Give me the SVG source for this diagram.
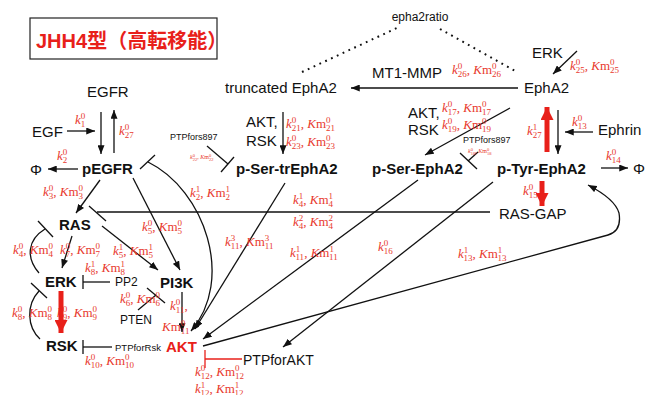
<svg xmlns="http://www.w3.org/2000/svg" width="645" height="395" viewBox="0 0 645 395">
<style>
.t{font-family:"Liberation Sans",Arial,sans-serif;font-size:15px;fill:#111}
.b{font-weight:bold}
.r{fill:#e8201a}
.m{font-family:"Liberation Serif","Times New Roman",serif;font-size:13px;fill:#e8392e}
.i{font-style:italic}
.s{font-size:9px}
.sm{font-size:6px}
.s2{font-size:4.5px}
.ln{fill:none;stroke:#111;stroke-width:1.3}
.dot{fill:none;stroke:#111;stroke-width:2;stroke-dasharray:1.8,4.6}
.rl{fill:none;stroke:#e8201a;stroke-width:1.3}
.fat{fill:none;stroke:#e8201a;stroke-width:5}
</style>
<defs>
<marker id="a" viewBox="0 0 10 8" refX="10" refY="4" markerWidth="9" markerHeight="7" markerUnits="userSpaceOnUse" orient="auto"><path d="M0,0L10,4L0,8z" fill="#111"/></marker>
<marker id="ra" viewBox="0 0 12 12" refX="12" refY="6" markerWidth="13" markerHeight="13" markerUnits="userSpaceOnUse" orient="auto"><path d="M0,0L12,6L0,12z" fill="#e8201a"/></marker>
</defs>

<g id="title">
<rect x="30" y="18" width="187" height="41" fill="#fff" stroke="#222" stroke-width="1.2"/>
<text x="36" y="48" class="t b r" style="font-size:20px;font-family:'Liberation Sans','Noto Sans CJK JP',sans-serif">JHH4型（高転移能）</text>
</g>

<g id="connectors">
<line class="dot" x1="302" y1="72" x2="399" y2="27"/>
<line class="dot" x1="440" y1="29" x2="517" y2="72"/>
<line class="ln" x1="67" y1="131" x2="95" y2="131" marker-end="url(#a)"/>
<line class="ln" x1="101" y1="112" x2="101" y2="154" marker-end="url(#a)"/>
<line class="ln" x1="114" y1="153" x2="114" y2="110" marker-end="url(#a)"/>
<line class="ln" x1="78" y1="169" x2="48" y2="169" marker-end="url(#a)"/>
<line class="ln" x1="100" y1="180" x2="76" y2="213" marker-end="url(#a)"/>
<line class="ln" x1="133" y1="178" x2="180" y2="270" marker-end="url(#a)"/>
<line class="ln" x1="102" y1="226" x2="158" y2="270" marker-end="url(#a)"/>
<line class="ln" x1="72" y1="236" x2="62" y2="268" marker-end="url(#a)"/>
<path class="ln" d="M39,273 C26,258 27,240 45,229"/>
<line class="ln" x1="38" y1="221" x2="53" y2="237"/>
<path class="ln" d="M40,339 C27,327 26,305 39,291"/>
<line class="ln" x1="31" y1="283" x2="47" y2="298"/>
<line class="ln" x1="110" y1="282" x2="83" y2="282"/>
<line class="ln" x1="83" y1="275" x2="83" y2="289"/>
<line class="ln" x1="138" y1="310" x2="156" y2="295"/>
<line class="ln" x1="147" y1="288" x2="165" y2="303"/>
<line class="ln" x1="182" y1="292" x2="182" y2="332" marker-end="url(#a)"/>
<line class="ln" x1="112" y1="347" x2="83" y2="347"/>
<line class="ln" x1="83" y1="340" x2="83" y2="354"/>
<path class="ln" d="M148,162 C205,190 235,280 191,331" marker-end="url(#a)"/>
<line class="ln" x1="140" y1="169" x2="155" y2="155"/>
<line class="ln" x1="285" y1="183" x2="195" y2="329" marker-end="url(#a)"/>
<line class="ln" x1="418" y1="180" x2="203" y2="339" marker-end="url(#a)"/>
<line class="ln" x1="493" y1="182" x2="283" y2="347" marker-end="url(#a)"/>
<path class="ln" d="M203,346 L608,235 Q622,231 619,213 Q615,199 588,185" marker-end="url(#a)"/>
<line class="ln" x1="490" y1="212" x2="97" y2="212"/>
<line class="ln" x1="89" y1="206" x2="106" y2="221"/>
<line class="ln" x1="510" y1="108" x2="425" y2="155" marker-end="url(#a)"/>
<line class="ln" x1="478" y1="152" x2="468" y2="161"/>
<line class="ln" x1="460" y1="153" x2="477" y2="169"/>
<line class="ln" x1="207" y1="146" x2="228" y2="164"/>
<line class="ln" x1="221" y1="172" x2="234" y2="157"/>
<line class="ln" x1="283" y1="112" x2="283" y2="154" marker-end="url(#a)"/>
<line class="ln" x1="518" y1="88" x2="351" y2="88" marker-end="url(#a)"/>
<line class="ln" x1="577" y1="51" x2="553" y2="74" marker-end="url(#a)"/>
<line class="ln" x1="558" y1="110" x2="558" y2="154" marker-end="url(#a)"/>
<line class="ln" x1="593" y1="132" x2="565" y2="132" marker-end="url(#a)"/>
<line class="ln" x1="601" y1="168" x2="628" y2="168" marker-end="url(#a)"/>
<line class="rl" x1="242" y1="359" x2="205" y2="359"/>
<line class="rl" x1="205" y1="350" x2="205" y2="368"/>
</g>

<g id="labels">
<text class="m" x="75" y="124"><tspan class="i">k</tspan><tspan class="s" dy="-5">0</tspan><tspan class="s" dx="-4.5" dy="8">1</tspan></text>
<text class="m" x="119" y="135"><tspan class="i">k</tspan><tspan class="s" dy="-5">0</tspan><tspan class="s" dx="-4.5" dy="8">27</tspan></text>
<text class="m" x="57" y="160"><tspan class="i">k</tspan><tspan class="s" dy="-5">0</tspan><tspan class="s" dx="-4.5" dy="8">2</tspan></text>
<text class="m" x="43" y="196"><tspan class="i">k</tspan><tspan class="s" dy="-5">0</tspan><tspan class="s" dx="-4.5" dy="8">3</tspan><tspan dy="-3">, </tspan><tspan class="i">K</tspan>m<tspan class="s" dy="-5">0</tspan><tspan class="s" dx="-4.5" dy="8">3</tspan></text>
<text class="m" x="142" y="231"><tspan class="i">k</tspan><tspan class="s" dy="-5">0</tspan><tspan class="s" dx="-4.5" dy="8">5</tspan><tspan dy="-3">, </tspan><tspan class="i">K</tspan>m<tspan class="s" dy="-5">0</tspan><tspan class="s" dx="-4.5" dy="8">5</tspan></text>
<text class="m" x="113" y="255"><tspan class="i">k</tspan><tspan class="s" dy="-5">1</tspan><tspan class="s" dx="-4.5" dy="8">5</tspan><tspan dy="-3">, </tspan><tspan class="i">K</tspan>m<tspan class="s" dy="-5">1</tspan><tspan class="s" dx="-4.5" dy="8">5</tspan></text>
<text class="m" x="60" y="254"><tspan class="i">k</tspan><tspan class="s" dy="-5">0</tspan><tspan class="s" dx="-4.5" dy="8">7</tspan><tspan dy="-3">, </tspan><tspan class="i">K</tspan>m<tspan class="s" dy="-5">0</tspan><tspan class="s" dx="-4.5" dy="8">7</tspan></text>
<text class="m" x="13" y="254"><tspan class="i">k</tspan><tspan class="s" dy="-5">0</tspan><tspan class="s" dx="-4.5" dy="8">4</tspan><tspan dy="-3">, </tspan><tspan class="i">K</tspan>m<tspan class="s" dy="-5">0</tspan><tspan class="s" dx="-4.5" dy="8">4</tspan></text>
<text class="m" x="85" y="272"><tspan class="i">k</tspan><tspan class="s" dy="-5">1</tspan><tspan class="s" dx="-4.5" dy="8">8</tspan><tspan dy="-3">, </tspan><tspan class="i">K</tspan>m<tspan class="s" dy="-5">1</tspan><tspan class="s" dx="-4.5" dy="8">8</tspan></text>
<text class="m" x="12" y="317"><tspan class="i">k</tspan><tspan class="s" dy="-5">0</tspan><tspan class="s" dx="-4.5" dy="8">8</tspan><tspan dy="-3">, </tspan><tspan class="i">K</tspan>m<tspan class="s" dy="-5">0</tspan><tspan class="s" dx="-4.5" dy="8">8</tspan></text>
<text class="m" x="57" y="317"><tspan class="i">k</tspan><tspan class="s" dy="-5">0</tspan><tspan class="s" dx="-4.5" dy="8">9</tspan><tspan dy="-3">, </tspan><tspan class="i">K</tspan>m<tspan class="s" dy="-5">0</tspan><tspan class="s" dx="-4.5" dy="8">9</tspan></text>
<text class="m" x="120" y="303"><tspan class="i">k</tspan><tspan class="s" dy="-5">0</tspan><tspan class="s" dx="-4.5" dy="8">6</tspan><tspan dy="-3">, </tspan><tspan class="i">K</tspan>m<tspan class="s" dy="-5">0</tspan><tspan class="s" dx="-4.5" dy="8">6</tspan></text>
<text class="m" x="170" y="310"><tspan class="i">k</tspan><tspan class="s" dy="-5">0</tspan><tspan class="s" dx="-4.5" dy="8">11</tspan><tspan dy="-3">,</tspan></text>
<text class="m" x="162" y="331"><tspan class="i">K</tspan>m<tspan class="s" dy="-5">0</tspan><tspan class="s" dx="-4.5" dy="8">11</tspan></text>
<text class="m" x="85" y="365"><tspan class="i">k</tspan><tspan class="s" dy="-5">0</tspan><tspan class="s" dx="-4.5" dy="8">10</tspan><tspan dy="-3">, </tspan><tspan class="i">K</tspan>m<tspan class="s" dy="-5">0</tspan><tspan class="s" dx="-4.5" dy="8">10</tspan></text>
<text class="m" x="190" y="197"><tspan class="i">k</tspan><tspan class="s" dy="-5">1</tspan><tspan class="s" dx="-4.5" dy="8">2</tspan><tspan dy="-3">, </tspan><tspan class="i">K</tspan>m<tspan class="s" dy="-5">1</tspan><tspan class="s" dx="-4.5" dy="8">2</tspan></text>
<text class="m" x="293" y="204"><tspan class="i">k</tspan><tspan class="s" dy="-5">1</tspan><tspan class="s" dx="-4.5" dy="8">4</tspan><tspan dy="-3">, </tspan><tspan class="i">K</tspan>m<tspan class="s" dy="-5">1</tspan><tspan class="s" dx="-4.5" dy="8">4</tspan></text>
<text class="m" x="293" y="226"><tspan class="i">k</tspan><tspan class="s" dy="-5">2</tspan><tspan class="s" dx="-4.5" dy="8">4</tspan><tspan dy="-3">, </tspan><tspan class="i">K</tspan>m<tspan class="s" dy="-5">2</tspan><tspan class="s" dx="-4.5" dy="8">4</tspan></text>
<text class="m" x="225" y="246"><tspan class="i">k</tspan><tspan class="s" dy="-5">3</tspan><tspan class="s" dx="-4.5" dy="8">11</tspan><tspan dy="-3">, </tspan><tspan class="i">K</tspan>m<tspan class="s" dy="-5">3</tspan><tspan class="s" dx="-4.5" dy="8">11</tspan></text>
<text class="m" x="290" y="257"><tspan class="i">k</tspan><tspan class="s" dy="-5">1</tspan><tspan class="s" dx="-4.5" dy="8">11</tspan><tspan dy="-3">, </tspan><tspan class="i">K</tspan>m<tspan class="s" dy="-5">1</tspan><tspan class="s" dx="-4.5" dy="8">11</tspan></text>
<text class="m" x="378" y="251"><tspan class="i">k</tspan><tspan class="s" dy="-5">0</tspan><tspan class="s" dx="-4.5" dy="8">16</tspan></text>
<text class="m" x="458" y="258"><tspan class="i">k</tspan><tspan class="s" dy="-5">1</tspan><tspan class="s" dx="-4.5" dy="8">13</tspan><tspan dy="-3">, </tspan><tspan class="i">K</tspan>m<tspan class="s" dy="-5">1</tspan><tspan class="s" dx="-4.5" dy="8">13</tspan></text>
<text class="m" x="195" y="376"><tspan class="i">k</tspan><tspan class="s" dy="-5">0</tspan><tspan class="s" dx="-4.5" dy="8">12</tspan><tspan dy="-3">, </tspan><tspan class="i">K</tspan>m<tspan class="s" dy="-5">0</tspan><tspan class="s" dx="-4.5" dy="8">12</tspan></text>
<text class="m" x="195" y="393"><tspan class="i">k</tspan><tspan class="s" dy="-5">1</tspan><tspan class="s" dx="-4.5" dy="8">12</tspan><tspan dy="-3">, </tspan><tspan class="i">K</tspan>m<tspan class="s" dy="-5">1</tspan><tspan class="s" dx="-4.5" dy="8">12</tspan></text>
<text class="m" x="286" y="128"><tspan class="i">k</tspan><tspan class="s" dy="-5">0</tspan><tspan class="s" dx="-4.5" dy="8">21</tspan><tspan dy="-3">, </tspan><tspan class="i">K</tspan>m<tspan class="s" dy="-5">0</tspan><tspan class="s" dx="-4.5" dy="8">21</tspan></text>
<text class="m" x="286" y="146"><tspan class="i">k</tspan><tspan class="s" dy="-5">0</tspan><tspan class="s" dx="-4.5" dy="8">23</tspan><tspan dy="-3">, </tspan><tspan class="i">K</tspan>m<tspan class="s" dy="-5">0</tspan><tspan class="s" dx="-4.5" dy="8">23</tspan></text>
<text class="m" x="452" y="74"><tspan class="i">k</tspan><tspan class="s" dy="-5">0</tspan><tspan class="s" dx="-4.5" dy="8">26</tspan><tspan dy="-3">, </tspan><tspan class="i">K</tspan>m<tspan class="s" dy="-5">0</tspan><tspan class="s" dx="-4.5" dy="8">26</tspan></text>
<text class="m" x="570" y="70"><tspan class="i">k</tspan><tspan class="s" dy="-5">0</tspan><tspan class="s" dx="-4.5" dy="8">25</tspan><tspan dy="-3">, </tspan><tspan class="i">K</tspan>m<tspan class="s" dy="-5">0</tspan><tspan class="s" dx="-4.5" dy="8">25</tspan></text>
<text class="m" x="442" y="112"><tspan class="i">k</tspan><tspan class="s" dy="-5">0</tspan><tspan class="s" dx="-4.5" dy="8">17</tspan><tspan dy="-3">, </tspan><tspan class="i">K</tspan>m<tspan class="s" dy="-5">0</tspan><tspan class="s" dx="-4.5" dy="8">17</tspan></text>
<text class="m" x="442" y="129"><tspan class="i">k</tspan><tspan class="s" dy="-5">0</tspan><tspan class="s" dx="-4.5" dy="8">19</tspan><tspan dy="-3">, </tspan><tspan class="i">K</tspan>m<tspan class="s" dy="-5">0</tspan><tspan class="s" dx="-4.5" dy="8">19</tspan></text>
<text class="m" x="527" y="135"><tspan class="i">k</tspan><tspan class="s" dy="-5">1</tspan><tspan class="s" dx="-4.5" dy="8">27</tspan></text>
<text class="m" x="572" y="126"><tspan class="i">k</tspan><tspan class="s" dy="-5">0</tspan><tspan class="s" dx="-4.5" dy="8">13</tspan></text>
<text class="m" x="606" y="160"><tspan class="i">k</tspan><tspan class="s" dy="-5">0</tspan><tspan class="s" dx="-4.5" dy="8">14</tspan></text>
<text class="m" x="523" y="195"><tspan class="i">k</tspan><tspan class="s" dy="-5">0</tspan><tspan class="s" dx="-4.5" dy="8">15</tspan></text>
<text class="m sm" x="190" y="159"><tspan class="i">k</tspan><tspan class="s2" dy="-2.5">0</tspan><tspan class="s2" dx="-2.2" dy="4">22</tspan><tspan dy="-1.5">, </tspan><tspan class="i">K</tspan>m<tspan class="s2" dy="-2.5">0</tspan><tspan class="s2" dx="-2.2" dy="4">22</tspan></text>
<text class="m sm" x="468" y="153"><tspan class="i">k</tspan><tspan class="s2" dy="-2.5">0</tspan><tspan class="s2" dx="-2.2" dy="4">18</tspan><tspan dy="-1.5">, </tspan><tspan class="i">K</tspan>m<tspan class="s2" dy="-2.5">0</tspan><tspan class="s2" dx="-2.2" dy="4">18</tspan></text>
</g>

<g id="fat-arrows">
<line class="fat" x1="61" y1="291" x2="61" y2="333" marker-end="url(#ra)"/>
<line class="fat" x1="547" y1="152" x2="547" y2="107" marker-end="url(#ra)"/>
<line class="fat" x1="542" y1="181" x2="542" y2="206" marker-end="url(#ra)"/>
</g>

<g id="n-epha2ratio"><text class="t" x="420" y="21" text-anchor="middle" style="font-size:12px">epha2ratio</text></g>
<g id="n-EGFR"><text class="t" x="87" y="97">EGFR</text></g>
<g id="n-EGF"><text class="t" x="32" y="137">EGF</text></g>
<g id="n-pEGFR"><text class="t b" x="82" y="174">pEGFR</text></g>
<g id="n-phi1"><text class="t" x="30" y="175">Φ</text></g>
<g id="n-RAS"><text class="t b" x="59" y="230">RAS</text></g>
<g id="n-ERK"><text class="t b" x="45" y="287">ERK</text></g>
<g id="n-PI3K"><text class="t b" x="160" y="288">PI3K</text></g>
<g id="n-RSK"><text class="t b" x="46" y="351">RSK</text></g>
<g id="n-AKT"><text class="t b r" x="166" y="352">AKT</text></g>
<g id="n-PP2"><text class="t" x="115" y="286" style="font-size:12px">PP2</text></g>
<g id="n-PTEN"><text class="t" x="120" y="324" style="font-size:12px">PTEN</text></g>
<g id="n-PTPforRsk"><text class="t" x="115" y="351" style="font-size:9.5px">PTPforRsk</text></g>
<g id="n-PTPforAKT"><text class="t" x="243" y="365" style="font-size:14px">PTPforAKT</text></g>
<g id="n-PTPfors897a"><text class="t" x="170" y="140" style="font-size:9px">PTPfors897</text></g>
<g id="n-PTPfors897b"><text class="t" x="463" y="143" style="font-size:9px">PTPfors897</text></g>
<g id="n-truncEphA2"><text class="t" x="225" y="93">truncated EphA2</text></g>
<g id="n-MT1MMP"><text class="t" x="372" y="78">MT1-MMP</text></g>
<g id="n-EphA2"><text class="t" x="524" y="93">EphA2</text></g>
<g id="n-ERK2"><text class="t" x="532" y="58">ERK</text></g>
<g id="n-Ephrin"><text class="t" x="598" y="135">Ephrin</text></g>
<g id="n-phi2"><text class="t" x="633" y="174">Φ</text></g>
<g id="n-AKTRSK1"><text class="t" x="246" y="127">AKT,</text><text class="t" x="246" y="146">RSK</text></g>
<g id="n-AKTRSK2"><text class="t" x="408" y="118">AKT,</text><text class="t" x="408" y="135">RSK</text></g>
<g id="n-pSertr"><text class="t b" x="236" y="174">p-Ser-trEphA2</text></g>
<g id="n-pSer"><text class="t b" x="372" y="174">p-Ser-EphA2</text></g>
<g id="n-pTyr"><text class="t b" x="497" y="174">p-Tyr-EphA2</text></g>
<g id="n-RASGAP"><text class="t" x="499" y="219">RAS-GAP</text></g>
</svg>
